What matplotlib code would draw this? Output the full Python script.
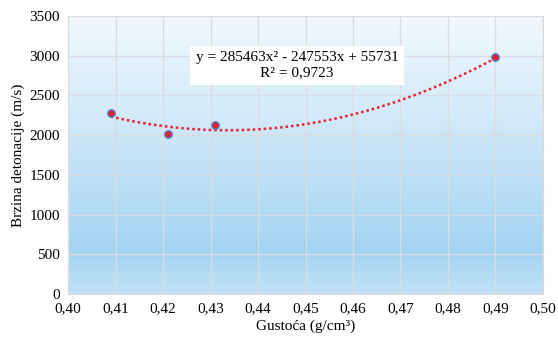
import numpy as np
import matplotlib.pyplot as plt
from matplotlib.colors import LinearSegmentedColormap

plt.rcParams['font.family'] = ['Liberation Serif', 'DejaVu Serif']

# data
gustoca = [0.409, 0.421, 0.431, 0.490]
brzina = [2275, 2015, 2130, 2990]
coeffs = [285463, -247553, 55731]   # trendline y = a x^2 + b x + c
r2 = 0.9723
xticks = [0.40, 0.41, 0.42, 0.43, 0.44, 0.45, 0.46, 0.47, 0.48, 0.49, 0.50]
yticks = [0, 500, 1000, 1500, 2000, 2500, 3000, 3500]

fig = plt.figure(figsize=(5.58, 3.39), dpi=100)
ax = fig.add_axes([0.1219, 0.1327, 0.8512, 0.8201])

# gradient background of plot area
cmap = LinearSegmentedColormap.from_list(
    'bg', [(0.0, '#c2e2f6'), (0.15, '#a3d4f2'), (0.6, '#cfe8f8'), (1.0, '#f3f9fd')])
grad = np.linspace(0, 1, 256).reshape(-1, 1)
ax.imshow(grad, aspect='auto', cmap=cmap, origin='lower',
          extent=[0.40, 0.50, 0, 3500], zorder=0)

ax.set_xlim(0.40, 0.50)
ax.set_ylim(0, 3500)
ax.set_xticks(xticks)
ax.set_xticklabels([f'{t:.2f}'.replace('.', ',') for t in xticks])
ax.set_yticks(yticks)
ax.grid(True, color='#d9dde2', linewidth=1.0, zorder=1)
ax.set_axisbelow(False)
for s in ax.spines.values():
    s.set_color('#d9d9d9')
ax.tick_params(length=0, labelsize=11, pad=6)

# trendline
xs = np.linspace(min(gustoca), max(gustoca), 200)
ys = np.polyval(coeffs, xs)
ax.plot(xs, ys, color='#ee1c2e', linestyle=(0, (1, 1.2)), linewidth=1.8, zorder=3)

ax.scatter(gustoca, brzina, s=28, color='#e8202a', edgecolors='#4a7fc8',
           linewidths=1.0, zorder=4)

eq = (f'y = {coeffs[0]}x\u00b2 - {abs(coeffs[1])}x + {coeffs[2]}\n'
      f'R\u00b2 = {str(r2).replace(".", ",")}')
ax.text(0.4482, 2880, eq, ha='center', va='center', fontsize=11,
        linespacing=1.25, zorder=5,
        bbox=dict(boxstyle='square,pad=0.35', facecolor='white', edgecolor='none'))

ax.set_xlabel('Gustoća (g/cm\u00b3)', fontsize=11, labelpad=3)
ax.set_ylabel('Brzina detonacije (m/s)', fontsize=11, labelpad=3)

fig.savefig('out.png', dpi=100)
